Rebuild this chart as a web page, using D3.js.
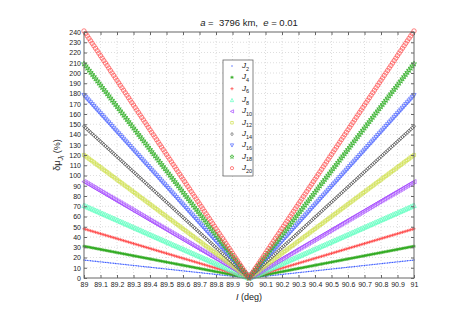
<!DOCTYPE html>
<html><head><meta charset="utf-8">
<script src="https://cdn.jsdelivr.net/npm/d3@7"></script>
<style>
body{margin:0;background:#fff;}
text{font-family:"Liberation Sans",Arial,sans-serif;}
</style></head>
<body><svg id="c" width="458" height="323"></svg>
<script>
// ---- data ----
const seriesNames = ["2","4","6","8","10","12","14","16","18","20"];
// value of δμ (%) at I = 89 deg and I = 91 deg (minimum 0 at I = 90 deg)
const valuesAt89 = [17.5, 31, 48, 71, 94, 120, 148, 178, 209, 241];
const valuesAt90 = [0, 0, 0, 0, 0, 0, 0, 0, 0, 0];
const valuesAt91 = [17.5, 31, 48, 71, 94, 120, 148, 178, 209, 241];
const knotsI = [89, 90, 91];
const markers = ["dot","star","plus","tri","left","square","diamond","down","penta","circle"];
const colors = ["#3b5bff","#2aa81a","#ff3b3b","#5effc0","#a64dff","#cfe04a","#555555","#4a63ff","#33b02a","#ff4a4a"];
const xTicks = [89,89.1,89.2,89.3,89.4,89.5,89.6,89.7,89.8,89.9,90,90.1,90.2,90.3,90.4,90.5,90.6,90.7,90.8,90.9,91];
const yTicks = d3.range(0, 250, 10);

const svg = d3.select("#c");
const L=84, R=414, T=32, B=278;
const x = d3.scaleLinear().domain([89,91]).range([L,R]);
const y = d3.scaleLinear().domain([0,240]).range([B,T]);

// grid
const g = svg.append("g");
g.selectAll("line.gx").data(xTicks.slice(1,-1)).join("line")
 .attr("x1",d=>x(d)).attr("x2",d=>x(d)).attr("y1",T).attr("y2",B)
 .attr("stroke","#c8c8c8").attr("stroke-width",0.6).attr("stroke-dasharray","1,2");
g.selectAll("line.gy").data(yTicks.slice(1,-1)).join("line")
 .attr("y1",d=>y(d)).attr("y2",d=>y(d)).attr("x1",L).attr("x2",R)
 .attr("stroke","#c8c8c8").attr("stroke-width",0.6).attr("stroke-dasharray","1,2");

// marker shapes
function markerPath(type, s){
  const h=s/2;
  switch(type){
    case "dot": return null;
    case "plus": return `M${-h},0L${h},0M0,${-h}L0,${h}`;
    case "star": return `M${-h},0L${h},0M0,${-h}L0,${h}M${-h*0.7},${-h*0.7}L${h*0.7},${h*0.7}M${-h*0.7},${h*0.7}L${h*0.7},${-h*0.7}`;
    case "tri": return `M0,${-h}L${h},${h}L${-h},${h}Z`;
    case "down": return `M0,${h}L${h},${-h}L${-h},${-h}Z`;
    case "left": return `M${-h},0L${h},${-h}L${h},${h}Z`;
    case "square": return `M${-h*0.8},${-h*0.8}H${h*0.8}V${h*0.8}H${-h*0.8}Z`;
    case "diamond": return `M0,${-h}L${h*0.8},0L0,${h}L${-h*0.8},0Z`;
    case "circle": return d3.arc()({innerRadius:0,outerRadius:h,startAngle:0,endAngle:2*Math.PI});
    case "penta": return d3.symbol(d3.symbolStar, s*s*0.5)();
  }
}
function drawMarker(sel, type, color, s){
  if(type==="dot"){
    sel.append("circle").attr("r",0.7).attr("fill",color);
  } else {
    sel.append("path").attr("d",markerPath(type,s)).attr("fill","none")
      .attr("stroke",color).attr("stroke-width",0.7);
  }
}
const sizes = [1,3.2,3.2,4.5,4.2,4,3.8,4.2,4.2,4.4];

// series: markers placed along each piecewise-linear series (knots at 89, 90, 91)
const plot = svg.append("g");
seriesNames.forEach((n,i)=>{
  const vals=[valuesAt89[i], valuesAt90[i], valuesAt91[i]];
  const line = d3.scaleLinear().domain(knotsI).range(vals);
  const pts = d3.range(0,201).map(k=>89+k*0.01);
  const gs = plot.append("g");
  pts.forEach(I=>{
    const v=line(I);
    const m = gs.append("g").attr("transform",`translate(${x(I)},${y(v)})`);
    drawMarker(m, markers[i], colors[i], sizes[i]);
  });
});

// axes box
svg.append("rect").attr("x",L).attr("y",T).attr("width",R-L).attr("height",B-T)
  .attr("fill","none").attr("stroke","#666").attr("stroke-width",1);

const axB = svg.append("g").attr("transform",`translate(0,${B})`)
  .call(d3.axisBottom(x).tickValues(xTicks).tickSize(-3).tickPadding(4).tickFormat(d3.format("")));
const axT = svg.append("g").attr("transform",`translate(0,${T})`)
  .call(d3.axisTop(x).tickValues(xTicks).tickSize(-3).tickFormat(""));
const axL = svg.append("g").attr("transform",`translate(${L},0)`)
  .call(d3.axisLeft(y).tickValues(yTicks).tickSize(-3).tickPadding(3));
const axR = svg.append("g").attr("transform",`translate(${R},0)`)
  .call(d3.axisRight(y).tickValues(yTicks).tickSize(-3).tickFormat(""));
[axB,axT,axL,axR].forEach(a=>{
  a.select(".domain").remove();
  a.selectAll("line").attr("stroke","#666");
  a.selectAll("text").attr("fill","#222").style("font-size","7px").style("font-family","Liberation Sans, Arial, sans-serif");
});

// title
const title = svg.append("text").attr("x",249).attr("y",26).attr("text-anchor","middle")
  .style("font-size","9.5px").attr("fill","#222").style("white-space","pre");
title.append("tspan").style("font-style","italic").text("a");
title.append("tspan").text(" =  3796 km,  ");
title.append("tspan").style("font-style","italic").text("e");
title.append("tspan").text(" = 0.01");

// x label
const xl = svg.append("text").attr("x",249).attr("y",300).attr("text-anchor","middle")
  .style("font-size","9px").attr("fill","#222");
xl.append("tspan").style("font-style","italic").text("I");
xl.append("tspan").text(" (deg)");

// y label
const yl = svg.append("text").attr("transform",`translate(60,${(T+B)/2}) rotate(-90)`)
  .attr("text-anchor","middle").style("font-size","9px").attr("fill","#222");
yl.append("tspan").text("δμ");
yl.append("tspan").attr("dy",2.5).style("font-size","7px").style("font-style","italic").text("J");
yl.append("tspan").attr("dy",1.5).style("font-size","5px").style("font-style","italic").text("l");
yl.append("tspan").attr("dy",-4).text(" (%)");

// legend
const lg = svg.append("g");
lg.append("rect").attr("x",223).attr("y",60).attr("width",30).attr("height",116)
  .attr("fill","#fff").attr("stroke","#666").attr("stroke-width",0.8);
seriesNames.forEach((n,i)=>{
  const yy = 66 + i*11.35;
  const m = lg.append("g").attr("transform",`translate(232,${yy})`);
  drawMarker(m, markers[i], colors[i], i===0?1:3.2);
  const t = lg.append("text").attr("x",242).attr("y",yy+2).style("font-size","8px").attr("fill","#222");
  t.append("tspan").style("font-style","italic").text("J");
  t.append("tspan").attr("dy",2.5).style("font-size","5.5px").text(n);
});
</script></body></html>
